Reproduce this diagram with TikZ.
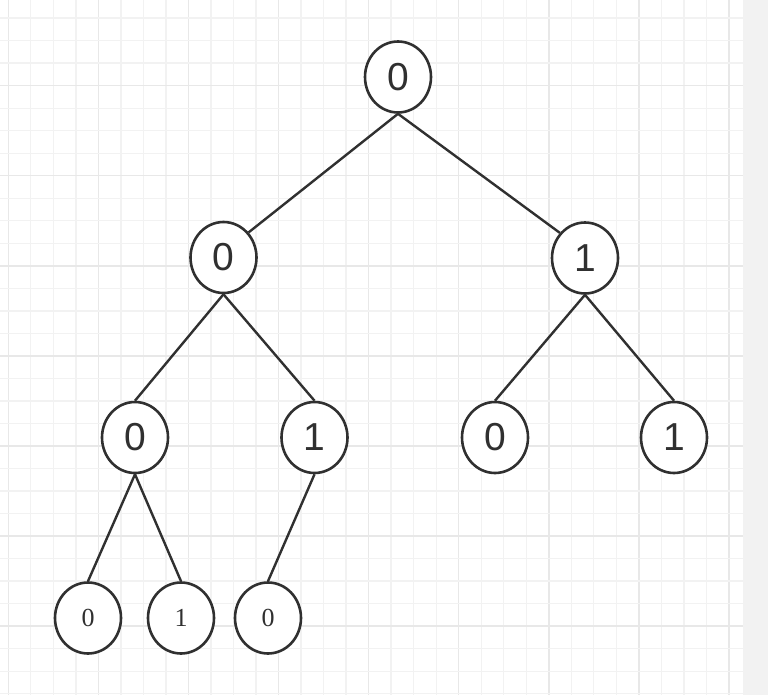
\documentclass[tikz,border=0pt]{standalone}
\usepackage{fontspec}
\setmainfont{Liberation Sans}
\newfontfamily\serifnum{Liberation Serif}
\usetikzlibrary{shapes.geometric}
\definecolor{edgecol}{HTML}{303030}
\definecolor{minorgrid}{HTML}{F2F2F2}
\definecolor{majorgrid}{HTML}{E8E8E8}
\definecolor{panelcol}{HTML}{F2F2F2}
\tikzset{
  treenode/.style={ellipse, draw=edgecol, line width=2.6pt, fill=white,
    minimum width=66pt, minimum height=71pt, inner sep=0pt,
    font=\fontsize{39}{39}\selectfont, text=edgecol},
  leafnode/.style={treenode, font=\serifnum\fontsize{26}{26}\selectfont},
  treeedge/.style={draw=edgecol, line width=2.4pt},
  minorline/.style={draw=minorgrid, line width=1.3pt},
  majorline/.style={draw=majorgrid, line width=1.5pt},
}
\begin{document}
\begin{tikzpicture}[x=1pt, y=-1pt]
\useasboundingbox (0,0) rectangle (768,695);
\fill[white] (0,0) rectangle (768,695);
% grid
\foreach \k in {0,...,32} {
  \pgfmathsetmacro{\xx}{8.3+22.52*\k}
  \pgfmathtruncatemacro{\m}{mod(\k,4)}
  \ifnum\m=0
    \draw[majorline] (\xx,0) -- (\xx,695);
  \else
    \draw[minorline] (\xx,0) -- (\xx,695);
  \fi
}
\foreach \k in {0,...,30} {
  \pgfmathsetmacro{\yy}{18.1+22.52*\k}
  \pgfmathtruncatemacro{\m}{mod(\k,4)}
  \ifnum\m=3
    \draw[majorline] (0,\yy) -- (743.3,\yy);
  \else
    \draw[minorline] (0,\yy) -- (743.3,\yy);
  \fi
}
\fill[panelcol] (743.3,0) rectangle (768,695);
% nodes
\node[treenode] (n0) at (398,77) {0};
\node[treenode] (n00) at (223.5,257.5) {0};
\node[treenode] (n01) at (585,258) {1};
\node[treenode] (n000) at (135,437.5) {0};
\node[treenode] (n001) at (314.5,437.5) {1};
\node[treenode] (n010) at (495,437.5) {0};
\node[treenode] (n011) at (674,437.5) {1};
\node[leafnode] (n0000) at (88,618) {0};
\node[leafnode] (n0001) at (181,618) {1};
\node[leafnode] (n0010) at (268,618) {0};
% edges
\draw[treeedge] (n0.south) -- (n00.45);
\draw[treeedge] (n0.south) -- (n01.135);
\draw[treeedge] (n00.south) -- (n000.north);
\draw[treeedge] (n00.south) -- (n001.north);
\draw[treeedge] (n01.south) -- (n010.north);
\draw[treeedge] (n01.south) -- (n011.north);
\draw[treeedge] (n000.south) -- (n0000.north);
\draw[treeedge] (n000.south) -- (n0001.north);
\draw[treeedge] (n001.south) -- (n0010.north);
\end{tikzpicture}
\end{document}
